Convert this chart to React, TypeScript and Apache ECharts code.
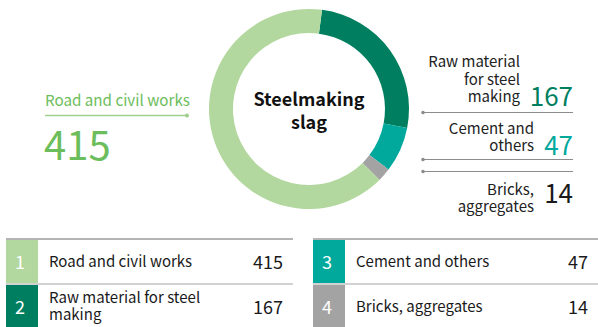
import { useEffect, useRef } from "react";
import * as echarts from "echarts";

// Uses of steelmaking slag (values shown in the callouts and the table)
const categories = [
  "Road and civil works",
  "Raw material for steel making",
  "Cement and others",
  "Bricks, aggregates",
];
const values = [415, 167, 47, 14];
const calloutLabels = [
  "Road and civil works",
  "Raw material\nfor steel\nmaking",
  "Cement and\nothers",
  "Bricks,\naggregates",
];
const tableLabels = [
  "Road and civil works",
  "Raw material for steel\nmaking",
  "Cement and others",
  "Bricks, aggregates",
];
const centerTitle = "Steelmaking\nslag";
// clockwise order of the ring, starting just right of 12 o'clock
const ringOrder = [1, 2, 3, 0];

const SLICE_COLORS = ["#b3d89f", "#007f60", "#00a99c", "#a3a3a3"];
const VALUE_COLORS = ["#6cbd5b", "#007f60", "#00a99c", "#1a1a1a"];
const FONT = '"Noto Sans CJK JP", "Noto Sans", sans-serif';

function buildGraphics() {
  const g: any[] = [];
  const text = (x: number, y: number, t: string, s: any) => ({
    type: "text",
    x,
    y,
    silent: true,
    style: { text: t, fontFamily: FONT, verticalAlign: "middle", ...s },
  });

  // centre title
  g.push(
    text(309, 109, centerTitle, {
      fill: "#111",
      fontSize: 18,
      fontWeight: "bold",
      align: "center",
      lineHeight: 23,
    })
  );

  // left callout (road and civil works)
  g.push(text(45, 99, calloutLabels[0], { fill: VALUE_COLORS[0], fontSize: 15.2, align: "left" }));
  g.push({
    type: "line",
    silent: true,
    shape: { x1: 45, y1: 115.5, x2: 186, y2: 115.5 },
    style: { stroke: "#9fcf8c", lineWidth: 1.5 },
  });
  g.push({ type: "circle", silent: true, shape: { cx: 187, cy: 115.5, r: 2 }, style: { fill: "#9fcf8c" } });
  g.push(text(44, 143, String(values[0]), { fill: VALUE_COLORS[0], fontSize: 40, align: "left" }));

  // right callouts
  const right = [
    { i: 1, lx: 520, ly: 78, vy: 94 },
    { i: 2, lx: 534, ly: 136, vy: 143 },
    { i: 3, lx: 534, ly: 197, vy: 191 },
  ];
  right.forEach(({ i, lx, ly, vy }) => {
    g.push(text(lx, ly, calloutLabels[i], { fill: "#222", fontSize: 15, align: "right", lineHeight: 17.5 }));
    g.push(text(573, vy, String(values[i]), { fill: VALUE_COLORS[i], fontSize: 26, align: "right" }));
  });
  [112.5, 159.5, 171.5].forEach((y) => {
    g.push({
      type: "line",
      silent: true,
      shape: { x1: 423, y1: y, x2: 573, y2: y },
      style: { stroke: "#8c8c8c", lineWidth: 1 },
    });
    g.push({ type: "circle", silent: true, shape: { cx: 423, cy: y, r: 1.8 }, style: { fill: "#8c8c8c" } });
  });

  // two-column table
  const cols = [
    { x0: 6, x1: 293 },
    { x0: 313, x1: 598 },
  ];
  cols.forEach(({ x0, x1 }) => {
    g.push({ type: "rect", silent: true, shape: { x: x0, y: 238, width: x1 - x0, height: 2 }, style: { fill: "#b4b4b4" } });
    g.push({ type: "rect", silent: true, shape: { x: x0, y: 283, width: x1 - x0, height: 2 }, style: { fill: "#d2d2d2" } });
  });
  categories.forEach((_, i) => {
    const col = cols[i < 2 ? 0 : 1];
    const top = i % 2 === 0 ? 240 : 285;
    const cy = top + 21;
    g.push({
      type: "rect",
      silent: true,
      shape: { x: col.x0, y: top, width: 32, height: 43 },
      style: { fill: SLICE_COLORS[i] },
    });
    g.push(text(col.x0 + 9, cy, String(i + 1), { fill: "#ffffff", fontSize: 18, align: "left" }));
    g.push(
      text(col.x0 + 43, cy - 1, tableLabels[i], { fill: "#1a1a1a", fontSize: 15, align: "left", lineHeight: 16.5 })
    );
    g.push(text(col.x1 - 10, cy, String(values[i]), { fill: "#1a1a1a", fontSize: 18, align: "right" }));
  });
  return g;
}

export default function App() {
  const ref = useRef<HTMLDivElement>(null);

  useEffect(() => {
    if (!ref.current) return;
    const chart = echarts.init(ref.current, null, { renderer: "svg" });
    chart.setOption({
      animation: false,
      backgroundColor: "#ffffff",
      series: [
        {
          type: "pie",
          center: [309, 109],
          radius: [76, 100],
          startAngle: 82.5,
          clockwise: true,
          silent: true,
          label: { show: false },
          labelLine: { show: false },
          itemStyle: { borderWidth: 0 },
          data: ringOrder.map((i) => ({
            name: categories[i],
            value: values[i],
            itemStyle: { color: SLICE_COLORS[i] },
          })),
        },
      ],
      graphic: buildGraphics(),
    });
    return () => chart.dispose();
  }, []);

  return (
    <div
      ref={ref}
      style={{ position: "absolute", left: 0, top: 0, width: 598, height: 327 }}
    />
  );
}
